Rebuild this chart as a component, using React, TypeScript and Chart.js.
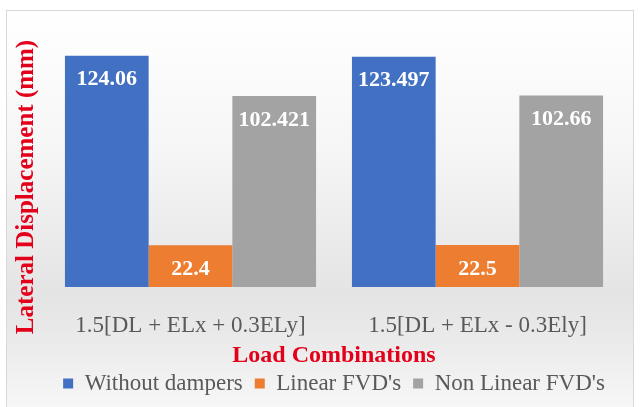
import React, { useEffect, useRef } from "react";
import { Chart, registerables } from "chart.js";

Chart.register(...registerables);

const categories = ["1.5[DL + ELx + 0.3ELy]", "1.5[DL + ELx - 0.3Ely]"];
const withoutDampers = [124.06, 123.497];
const linearFVD = [22.4, 22.5];
const nonLinearFVD = [102.421, 102.66];
const seriesNames = ["Without dampers", "Linear FVD's", "Non Linear FVD's"];
const xTitle = "Load Combinations";
const yTitle = "Lateral Displacement (mm)";

const SERIF = "'Liberation Serif', 'Times New Roman', serif";

const backgroundPlugin = {
  id: "bgPlugin",
  beforeDraw(chart: any) {
    const { ctx, width, height } = chart;
    ctx.save();
    ctx.fillStyle = "#ffffff";
    ctx.fillRect(0, 0, width, height);
    const g = ctx.createLinearGradient(0, 10, 0, height);
    g.addColorStop(0, "#ffffff");
    g.addColorStop(0.35, "#f6f6f6");
    g.addColorStop(0.72, "#e4e4e4");
    g.addColorStop(0.86, "#ececec");
    g.addColorStop(1, "#f7f7f7");
    ctx.fillStyle = g;
    ctx.fillRect(7, 10, 626, height - 10);
    ctx.strokeStyle = "#d9d9d9";
    ctx.lineWidth = 1;
    ctx.strokeRect(6.5, 10.5, 627, height);
    ctx.restore();
  },
};

const labelsPlugin = {
  id: "valueLabels",
  afterDatasetsDraw(chart: any) {
    const { ctx } = chart;
    ctx.save();
    ctx.font = `bold 22px ${SERIF}`;
    ctx.fillStyle = "#ffffff";
    ctx.textAlign = "center";
    ctx.textBaseline = "middle";
    chart.data.datasets.forEach((ds: any, di: number) => {
      const meta = chart.getDatasetMeta(di);
      meta.data.forEach((el: any, i: number) => {
        ctx.fillText(String(ds.data[i]), el.x, el.y + 24);
      });
    });
    ctx.restore();
  },
};

const yTitlePlugin = {
  id: "yTitle",
  afterDraw(chart: any) {
    const { ctx } = chart;
    ctx.save();
    ctx.translate(27, 187);
    ctx.rotate(-Math.PI / 2);
    ctx.font = `bold 25px ${SERIF}`;
    ctx.fillStyle = "#e3001b";
    ctx.textAlign = "center";
    ctx.textBaseline = "middle";
    ctx.fillText(yTitle, 0, 0);
    ctx.restore();
  },
};

export default function App() {
  const ref = useRef<HTMLCanvasElement | null>(null);
  useEffect(() => {
    if (!ref.current) return;
    const chart = new Chart(ref.current, {
      type: "bar",
      data: {
        labels: categories,
        datasets: [
          { label: seriesNames[0], data: withoutDampers, backgroundColor: "#4270C2" },
          { label: seriesNames[1], data: linearFVD, backgroundColor: "#ED7D31" },
          { label: seriesNames[2], data: nonLinearFVD, backgroundColor: "#A3A3A3" },
        ],
      },
      options: {
        responsive: false,
        animation: false,
        devicePixelRatio: 1,
        layout: { padding: { left: 47, right: 20, top: 26, bottom: 2 } },
        datasets: { bar: { categoryPercentage: 0.875, barPercentage: 1 } },
        plugins: {
          legend: {
            position: "bottom",
            labels: {
              boxWidth: 10,
              boxHeight: 10,
              padding: 12,
              color: "#595959",
              font: { family: SERIF, size: 23 },
            },
          },
          tooltip: { enabled: false },
        },
        scales: {
          x: {
            grid: { display: false, drawTicks: false },
            border: { display: false },
            ticks: {
              padding: 27,
              color: "#595959",
              maxRotation: 0,
              font: { family: SERIF, size: 23, lineHeight: 1 },
            },
            title: {
              display: true,
              text: xTitle,
              color: "#e3001b",
              padding: { top: -20, bottom: -8 },
              font: { family: SERIF, size: 24, weight: "bold", lineHeight: 1 },
            },
          },
          y: {
            display: false,
            min: 0,
            max: 140,
          },
        },
      },
      plugins: [backgroundPlugin, labelsPlugin, yTitlePlugin],
    } as any);
    return () => chart.destroy();
  }, []);
  return (
    <div style={{ position: "absolute", left: 0, top: 0, width: 641, height: 407 }}>
      <canvas ref={ref} width={641} height={407} />
    </div>
  );
}
